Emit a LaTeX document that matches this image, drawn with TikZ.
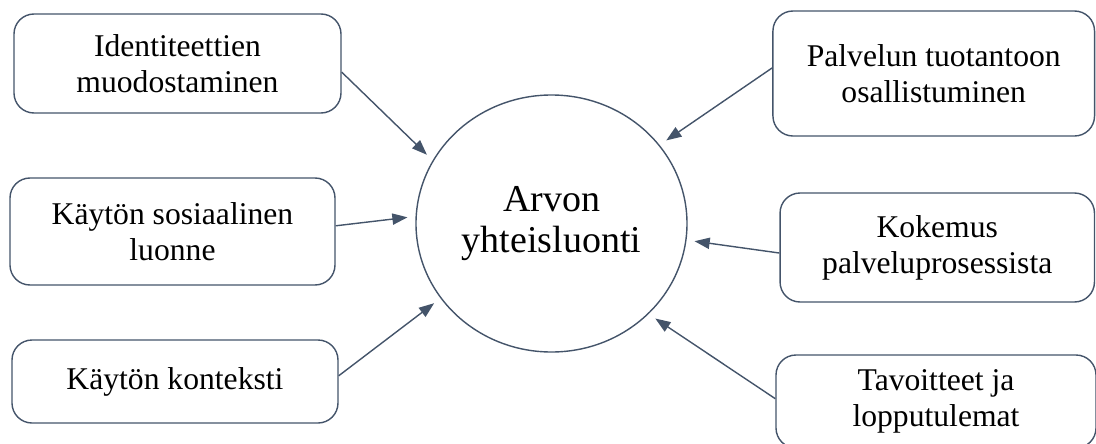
\documentclass[tikz,border=0pt]{standalone}
\usepackage{fontspec}
\setmainfont{Liberation Serif}
\usepackage{tikz}
\usetikzlibrary{shapes.geometric, arrows.meta, positioning}
\definecolor{SlateLine}{HTML}{44546A}

\begin{document}
\begin{tikzpicture}[
    factor/.style={draw=SlateLine, line width=1pt, rounded corners=0.5cm,
        align=center, inner sep=0pt, font=\fontsize{22.5}{25.5}\selectfont},
    flow/.style={draw=SlateLine, line width=1pt,
        -{Triangle[length=3.8mm, width=2.8mm]}, shorten >=0.2cm}
]
    \useasboundingbox (-13.7875, -5.4875) rectangle (13.6125, 5.5875);

    % Centre
    \node[ellipse, draw=SlateLine, line width=1pt, minimum width=6.775cm, minimum height=6.425cm,
        inner sep=0pt, align=center, font=\fontsize{27}{29}\selectfont] (arvo) at (0, 0) {Arvon\\yhteisluonti};

    % Left factors
    \node[factor, minimum width=8.175cm, minimum height=2.475cm] (idn) at (-9.35, 4.0) {Identiteettien\\muodostaminen};
    \node[factor, minimum width=8.125cm, minimum height=2.675cm] (sos) at (-9.475, -0.2) {Käytön sosiaalinen\\luonne};
    \node[factor, minimum width=8.15cm, minimum height=2.075cm] (kon) at (-9.4125, -3.95) {Käytön konteksti};

    % Right factors
    \node[factor, minimum width=8.04cm, minimum height=3.125cm] (pal) at (9.556, 3.75) {Palvelun tuotantoon\\osallistuminen};
    \node[factor, minimum width=7.86cm, minimum height=2.725cm] (kok) at (9.644, -0.6) {Kokemus\\palveluprosessista};
    \node[factor, minimum width=8.0cm, minimum height=2.325cm] (tav) at (9.6125, -4.45) {Tavoitteet ja\\lopputulemat};

    % Arrows into the centre
    \draw[flow] (idn.-3) -- (arvo.152);
    \draw[flow] (sos.2) -- (arvo.177);
    \draw[flow] (kon.2) -- (arvo.214);
    \draw[flow] (pal.178) -- (arvo.36);
    \draw[flow] (kok.182) -- (arvo.-7);
    \draw[flow] (tav.179) -- (arvo.-43);
\end{tikzpicture}
\end{document}
